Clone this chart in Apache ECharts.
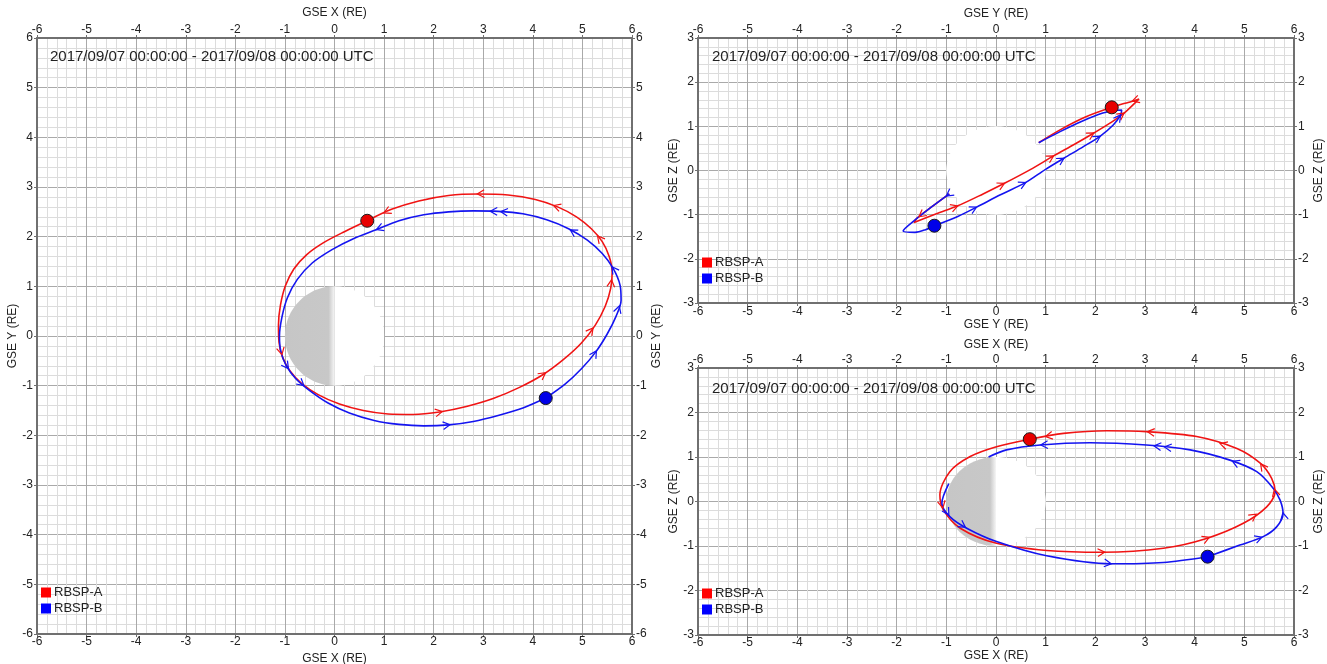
<!DOCTYPE html>
<html><head><meta charset="utf-8">
<script src="https://cdn.jsdelivr.net/npm/echarts@6/dist/echarts.min.js"></script>
<style>html,body{margin:0;padding:0;background:#fff}#c{width:1327px;height:664px}</style>
</head><body><div id="c"></div>
<script>
// ---------------- data ----------------
const titleText = '2017/09/07 00:00:00 - 2017/09/08 00:00:00 UTC';
const seriesNames = ['RBSP-A', 'RBSP-B'];
const axisNameX = 'GSE X (RE)', axisNameY = 'GSE Y (RE)', axisNameZ = 'GSE Z (RE)';
const extentXY = [-6, 6];      // X and Y in the X-Y panel
const extentH = [-6, 6];       // horizontal axes of the right panels
const extentZ = [-3, 3];       // Z axes of the right panels
const earth = [[0, 0, 1]];     // centre x, centre y, radius (RE)

// X-Y plane (segments of visible path, in time order)
const xyRbspA = [[[0.66,2.32],[0.2,2.1],[-0.22,1.88],[-0.56,1.64],[-0.82,1.35],[-0.99,1.01],[-1.09,0.62],[-1.13,0.22],[-1.12,-0.12],[-1.05,-0.42],[-0.9,-0.7],[-0.66,-0.96],[-0.33,-1.18],[0.1,-1.37],[0.58,-1.5],[1.08,-1.57],[1.59,-1.58],[2.12,-1.53],[2.66,-1.42],[3.2,-1.26],[3.72,-1.04],[4.2,-0.78],[4.62,-0.47],[4.98,-0.14],[5.26,0.22],[5.46,0.6],[5.57,0.96],[5.6,1.28],[5.54,1.6],[5.4,1.9],[5.18,2.16],[4.88,2.4],[4.5,2.6],[4.05,2.75],[3.5,2.84],[2.9,2.86],[2.3,2.83],[1.7,2.72],[1.15,2.55],[0.66,2.32]]];
const xyRbspB = [[[4.26,-1.25],[4.65,-0.97],[4.98,-0.66],[5.27,-0.32],[5.5,0.04],[5.68,0.4],[5.78,0.72],[5.76,1.02],[5.62,1.36],[5.4,1.66],[5.1,1.93],[4.72,2.16],[4.28,2.34],[3.8,2.46],[3.3,2.51],[2.8,2.52],[2.3,2.5],[1.8,2.44],[1.3,2.32],[0.84,2.14],[0.38,1.96],[-0.05,1.74],[-0.45,1.47],[-0.75,1.14],[-0.95,0.77],[-1.06,0.38],[-1.11,0.0],[-1.08,-0.32],[-0.97,-0.6],[-0.78,-0.86],[-0.5,-1.1],[-0.13,-1.35],[0.3,-1.55],[0.8,-1.7],[1.3,-1.78],[1.8,-1.81],[2.3,-1.79],[2.8,-1.72],[3.3,-1.6],[3.8,-1.45],[4.26,-1.25]]];
const xyArrowsA = [[2.88,2.86],[4.41,2.6],[5.29,2.0],[5.6,1.13],[5.23,0.15],[4.28,-0.77],[2.17,-1.5],[0.99,2.49],[-1.08,-0.38]];
const xyArrowsB = [[3.14,2.52],[3.35,2.5],[4.75,2.13],[5.6,1.4],[5.76,0.6],[5.36,-0.35],[2.33,-1.79],[0.85,2.13],[-0.96,-0.68],[-0.66,-1.05]];
const xyDotA = [[0.66,2.32]], xyDotB = [[4.26,-1.25]];

// Y-Z plane
const yzRbspA = [
  [[2.33,1.43],[1.8,1.21],[1.29,0.92],[0.86,0.63]],
  [[-0.94,-0.53],[-1.29,-0.82],[-1.59,-1.08],[-1.65,-1.18],[-1.2,-0.98],[-0.77,-0.8],[-0.26,-0.53],[0.17,-0.29],[0.69,0.02],[1.16,0.33],[1.59,0.6],[1.97,0.85],[2.32,1.09],[2.58,1.3],[2.79,1.52],[2.88,1.62],[2.66,1.54],[2.49,1.49],[2.33,1.43]]
];
const yzRbspB = [
  [[-1.24,-1.25],[-0.77,-1.04],[-0.39,-0.83],[0.09,-0.55],[0.6,-0.27],[0.99,0.02],[1.37,0.28],[1.76,0.54],[2.1,0.78],[2.36,1.03],[2.51,1.26],[2.53,1.37],[2.4,1.36],[2.15,1.3],[1.72,1.11],[1.29,0.88],[0.86,0.63]],
  [[-0.94,-0.53],[-1.29,-0.82],[-1.63,-1.12],[-1.87,-1.37],[-1.63,-1.4],[-1.42,-1.34],[-1.24,-1.25]]
];
const yzArrowsA = [[-0.77,-0.8],[0.17,-0.29],[1.16,0.33],[1.97,0.85],[2.58,1.3],[2.75,1.55],[-1.55,-1.05]];
const yzArrowsB = [[-0.39,-0.83],[0.6,-0.27],[1.37,0.28],[2.1,0.78],[2.51,1.26],[-1.0,-0.58]];
const yzDotA = [[2.33,1.43]], yzDotB = [[-1.24,-1.25]];

// X-Z plane
const xzRbspA = [[[0.68,1.40],[0.01,1.23],[-0.52,1.01],[-0.93,0.67],[-1.13,0.15],[-1.06,-0.19],[-0.72,-0.6],[0.01,-0.94],[1.02,-1.1],[2.15,-1.14],[3.37,-1.05],[4.24,-0.83],[4.98,-0.49],[5.45,-0.12],[5.62,0.22],[5.55,0.52],[5.32,0.86],[4.85,1.19],[4.04,1.46],[3.03,1.57],[2.23,1.59],[1.36,1.53],[0.68,1.40]]];
const xzRbspB = [
  [[4.26,-1.24],[4.91,-0.98],[5.38,-0.79],[5.65,-0.57],[5.78,-0.27],[5.72,0.03],[5.58,0.3],[5.25,0.67],[4.71,0.93],[3.91,1.16],[3.03,1.27],[1.89,1.32],[0.89,1.27],[0.21,1.16],[-0.15,1.0]],
  [[-0.95,0.4],[-1.09,-0.04],[-0.93,-0.34],[-0.59,-0.6],[0.01,-0.9],[1.02,-1.22],[2.33,-1.40],[3.37,-1.37],[4.26,-1.24]]
];
const xzArrowsA = [[3.05,1.58],[4.51,1.29],[5.32,0.84],[5.58,0.27],[5.24,-0.29],[4.29,-0.79],[2.19,-1.14],[0.99,1.49],[-1.05,-0.14]];
const xzArrowsB = [[0.9,1.28],[3.18,1.24],[3.39,1.22],[4.72,0.8],[5.79,-0.25],[5.36,-0.82],[2.32,-1.40],[-0.96,-0.31],[-0.62,-0.59]];
const xzDotA = [[0.68,1.40]], xzDotB = [[4.26,-1.24]];

// ---------------- styles ----------------
const RED = '#f01414', BLUE = '#1414f0';
const FONT = 'Liberation Sans, Arial, sans-serif';
const labelStyle = {fontFamily: FONT, fontSize: 12, color: '#222'};

function makeAxis(dim, gridIndex, pos, ext, name, minorN, nameGap, labelMargin, showGrid) {
  return {
    type: 'value', gridIndex, position: pos, min: ext[0], max: ext[1], interval: 1,
    name, nameLocation: 'middle', nameGap, nameRotate: dim === 'y' ? 90 : 0,
    nameTextStyle: labelStyle,
    axisLine: {show: true, onZero: false, lineStyle: {color: '#707070', width: 2}},
    axisTick: {show: true, length: 3, lineStyle: {color: '#707070'}},
    axisLabel: Object.assign({margin: labelMargin, showMinLabel: true, showMaxLabel: true}, labelStyle),
    splitLine: {show: showGrid, lineStyle: {color: '#a9a9a9', width: 1}},
    minorTick: {show: false, splitNumber: minorN},
    minorSplitLine: {show: showGrid, lineStyle: {color: '#dcdcdc', width: 1}}
  };
}

const grids = [
  {left: 37, top: 38, width: 595, height: 596, outerBoundsMode: 'none', containLabel: false},
  {left: 698, top: 38, width: 596, height: 265, outerBoundsMode: 'none', containLabel: false},
  {left: 698, top: 368, width: 596, height: 267, outerBoundsMode: 'none', containLabel: false}
];
const xAxes = [
  makeAxis('x', 0, 'bottom', extentXY, axisNameX, 5, 15, 2, true),
  makeAxis('x', 0, 'top', extentXY, axisNameX, 5, 18, 2, false),
  makeAxis('x', 1, 'bottom', extentH, axisNameY, 5, 16, 3, true),
  makeAxis('x', 1, 'top', extentH, axisNameY, 5, 18, 2, false),
  makeAxis('x', 2, 'bottom', extentH, axisNameX, 5, 14, 2, true),
  makeAxis('x', 2, 'top', extentH, axisNameX, 5, 17, 2, false)
];
const yAxes = [
  makeAxis('y', 0, 'left', extentXY, axisNameY, 5, 17, 4, true),
  makeAxis('y', 0, 'right', extentXY, axisNameY, 5, 14, 4, false),
  makeAxis('y', 1, 'left', extentZ, axisNameZ, 5, 16, 4, true),
  makeAxis('y', 1, 'right', extentZ, axisNameZ, 5, 17, 4, false),
  makeAxis('y', 2, 'left', extentZ, axisNameZ, 5, 16, 4, true),
  makeAxis('y', 2, 'right', extentZ, axisNameZ, 5, 17, 4, false)
];

function earthRender(grayHalf) {
  return function (params, api) {
    const cx = api.value(0), cy = api.value(1), r = api.value(2);
    const left = [], right = [];
    for (let i = 0; i <= 64; i++) {
      const a = Math.PI / 2 + Math.PI * i / 64;
      left.push(api.coord([cx + r * Math.cos(a), cy + r * Math.sin(a)]));
      const b = -Math.PI / 2 + Math.PI * i / 64;
      right.push(api.coord([cx + r * Math.cos(b), cy + r * Math.sin(b)]));
    }
    const children = [
      {type: 'polygon', shape: {points: right}, style: {fill: '#ffffff', stroke: null}},
      {type: 'polygon', shape: {points: left}, style: {
        fill: grayHalf ? new echarts.graphic.LinearGradient(0, 0, 1, 0, [
          {offset: 0, color: '#c6c6c6'}, {offset: 0.88, color: '#c8c8c8'}, {offset: 1, color: '#f6f6f6'}]) : '#ffffff',
        stroke: null}}
    ];
    return {type: 'group', children};
  };
}

function arrowRender(segs, color) {
  return function (params, api) {
    const p = api.coord([api.value(0), api.value(1)]);
    let best = null, bd = Infinity;
    segs.forEach(seg => {
      for (let i = 0; i < seg.length - 1; i++) {
        const a = api.coord(seg[i]), b = api.coord(seg[i + 1]);
        const dx = b[0] - a[0], dy = b[1] - a[1];
        const L2 = dx * dx + dy * dy || 1;
        let t = ((p[0] - a[0]) * dx + (p[1] - a[1]) * dy) / L2;
        t = Math.max(0, Math.min(1, t));
        const qx = a[0] + t * dx, qy = a[1] + t * dy;
        const d = (p[0] - qx) ** 2 + (p[1] - qy) ** 2;
        if (d < bd) { bd = d; best = {dx, dy, q: [qx, qy]}; }
      }
    });
    const ang = Math.atan2(best.dy, best.dx), L = 8, w = 0.5;
    const tip = best.q;
    return {type: 'polyline', shape: {points: [
      [tip[0] - L * Math.cos(ang - w), tip[1] - L * Math.sin(ang - w)], tip,
      [tip[0] - L * Math.cos(ang + w), tip[1] - L * Math.sin(ang + w)]]},
      style: {stroke: color, lineWidth: 1.2, fill: null}};
  };
}

const series = [];
function addPanel(g, segA, segB, arrA, arrB, dotA, dotB, grayHalf) {
  const ax = {xAxisIndex: g * 2, yAxisIndex: g * 2};
  series.push(Object.assign({type: 'custom', name: 'earth' + g, z: 1, silent: true,
    renderItem: earthRender(grayHalf), data: earth, encode: {x: 0, y: 1}}, ax));
  [[segA, seriesNames[0], RED], [segB, seriesNames[1], BLUE]].forEach(([segs, nm, col]) => {
    segs.forEach(seg => series.push(Object.assign({type: 'line', name: nm, z: 3, data: seg,
      showSymbol: false, smooth: 0.3, lineStyle: {color: col, width: 1.6},
      itemStyle: {color: col}, emphasis: {disabled: true}}, ax)));
  });
  series.push(Object.assign({type: 'custom', name: seriesNames[0], z: 4, renderItem: arrowRender(segA, RED), data: arrA, itemStyle: {color: RED}}, ax));
  series.push(Object.assign({type: 'custom', name: seriesNames[1], z: 4, renderItem: arrowRender(segB, BLUE), data: arrB, itemStyle: {color: BLUE}}, ax));
  series.push(Object.assign({type: 'scatter', name: seriesNames[0], z: 5, data: dotA, symbolSize: 13,
    itemStyle: {color: '#e80000', borderColor: '#1a1a1a', borderWidth: 1, opacity: 1}}, ax));
  series.push(Object.assign({type: 'scatter', name: seriesNames[1], z: 5, data: dotB, symbolSize: 13,
    itemStyle: {color: '#0000e8', borderColor: '#1a1a1a', borderWidth: 1, opacity: 1}}, ax));
}
addPanel(0, xyRbspA, xyRbspB, xyArrowsA, xyArrowsB, xyDotA, xyDotB, true);
addPanel(1, yzRbspA, yzRbspB, yzArrowsA, yzArrowsB, yzDotA, yzDotB, false);
addPanel(2, xzRbspA, xzRbspB, xzArrowsA, xzArrowsB, xzDotA, xzDotB, true);

const titlePos = [[50, 49], [712, 49], [712, 381]];
const legendPos = [[41, 586], [702, 256], [702, 587]];
const option = {
  animation: false,
  backgroundColor: '#ffffff',
  textStyle: {fontFamily: FONT},
  grid: grids,
  xAxis: xAxes,
  yAxis: yAxes,
  title: titlePos.map(p => ({text: titleText, left: p[0], top: p[1], padding: 0,
    textStyle: {fontFamily: FONT, fontSize: 15, fontWeight: 'normal', color: '#222'}})),
  legend: legendPos.map(p => ({left: p[0], top: p[1], orient: 'vertical', padding: 0,
    itemGap: 3, itemWidth: 10, itemHeight: 10, icon: 'rect', selectedMode: false,
    data: seriesNames.map((n, i) => ({name: n, itemStyle: {color: i ? '#0000ff' : '#ff0000'}})),
    textStyle: {fontFamily: FONT, fontSize: 13, color: '#222', padding: [0, 0, 0, -2]}})),
  series
};
const chart = echarts.init(document.getElementById('c'), null, {renderer: 'canvas'});
chart.setOption(option);
</script></body></html>
